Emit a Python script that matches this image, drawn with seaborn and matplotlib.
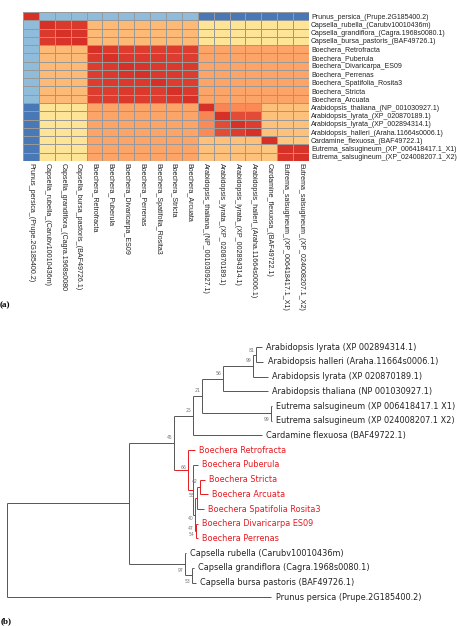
import matplotlib
matplotlib.use("Agg")
import matplotlib.pyplot as plt
import pandas as pd
import seaborn as sns
from matplotlib.colors import LinearSegmentedColormap

# ---- (a) heatmap data: percent identity between sequences ----
row_labels = [
    "Prunus_persica_(Prupe.2G185400.2)",
    "Capsella_rubella_(Carubv10010436m)",
    "Capsella_grandiflora_(Cagra.1968s0080.1)",
    "Capsella_bursa_pastoris_(BAF49726.1)",
    "Boechera_Retrofracta",
    "Boechera_Puberula",
    "Boechera_Divaricarpa_ES09",
    "Boechera_Perrenas",
    "Boechera_Spatifolia_Rosita3",
    "Boechera_Stricta",
    "Boechera_Arcuata",
    "Arabidopsis_thaliana_(NP_001030927.1)",
    "Arabidopsis_lyrata_(XP_020870189.1)",
    "Arabidopsis_lyrata_(XP_002894314.1)",
    "Arabidopsis_halleri_(Araha.11664s0006.1)",
    "Cardamine_flexuosa_(BAF49722.1)",
    "Eutrema_salsugineum_(XP_006418417.1_X1)",
    "Eutrema_salsugineum_(XP_024008207.1_X2)",
]
col_labels = [
    "Prunus_persica_(Prupe.2G185400.2)",
    "Capsella_rubella_(Carubv10010436m)",
    "Capsella_grandiflora_(Cagra.1968s0080",
    "Capsella_bursa_pastoris_(BAF49726.1)",
    "Boechera_Retrofracta",
    "Boechera_Puberula",
    "Boechera_Divaricarpa_ES09",
    "Boechera_Perrenas",
    "Boechera_Spatifolia_Rosita3",
    "Boechera_Stricta",
    "Boechera_Arcuata",
    "Arabidopsis_thaliana_(NP_001030927.1)",
    "Arabidopsis_lyrata_(XP_020870189.1)",
    "Arabidopsis_lyrata_(XP_002894314.1)",
    "Arabidopsis_halleri_(Araha.11664s0006.1)",
    "Cardamine_flexuosa_(BAF49722.1)",
    "Eutrema_salsugineum_(XP_006418417.1_X1)",
    "Eutrema_salsugineum_(XP_024008207.1_X2)",
]
identity = [
    [100, 54, 54, 54, 54, 54, 54, 54, 54, 54, 54, 45.5, 45.5, 45.5, 45.5, 45.5, 45.5, 45.5],
    [54, 100, 99, 99, 86, 86, 86, 86, 86, 86, 86, 80.5, 80.5, 80.5, 80.5, 80.5, 80.5, 80.5],
    [54, 99, 100, 99.5, 86, 86, 86, 86, 86, 86, 86, 80.5, 80.5, 80.5, 80.5, 80.5, 80.5, 80.5],
    [54, 99, 99.5, 100, 86, 86, 86, 86, 86, 86, 86, 80.5, 80.5, 80.5, 80.5, 80.5, 80.5, 80.5],
    [54, 86, 86, 86, 100, 99, 98.5, 98.5, 98.5, 98.5, 98.5, 88, 88, 88, 88, 88, 88, 88],
    [54, 86, 86, 86, 99, 100, 99, 99, 99, 98.5, 98.5, 88, 88, 88, 88, 88, 88, 88],
    [54, 86, 86, 86, 98.5, 99, 100, 99.5, 99, 99, 99, 88, 88, 88, 88, 88, 88, 88],
    [54, 86, 86, 86, 98.5, 99, 99.5, 100, 99, 99, 98.5, 88, 88, 88, 88, 88, 88, 88],
    [54, 86, 86, 86, 98.5, 99, 99, 99, 100, 98.5, 98.5, 88, 88, 88, 88, 88, 88, 88],
    [54, 86, 86, 86, 98.5, 98.5, 99, 99, 98.5, 100, 99, 88, 88, 88, 88, 88, 88, 88],
    [54, 86, 86, 86, 98.5, 98.5, 99, 98.5, 98.5, 99, 100, 88, 88, 88, 88, 88, 88, 88],
    [45.5, 80.5, 80.5, 80.5, 88, 88, 88, 88, 88, 88, 88, 100, 91.5, 91, 91, 85, 85, 85],
    [45.5, 80.5, 80.5, 80.5, 88, 88, 88, 88, 88, 88, 88, 91.5, 100, 97, 97, 85, 85, 85],
    [45.5, 80.5, 80.5, 80.5, 88, 88, 88, 88, 88, 88, 88, 91, 97, 100, 98.5, 85, 85, 85],
    [45.5, 80.5, 80.5, 80.5, 88, 88, 88, 88, 88, 88, 88, 91, 97, 98.5, 100, 85, 85, 85],
    [45.5, 80.5, 80.5, 80.5, 88, 88, 88, 88, 88, 88, 88, 85, 85, 85, 85, 100, 84.5, 84.5],
    [45.5, 80.5, 80.5, 80.5, 88, 88, 88, 88, 88, 88, 88, 85, 85, 85, 85, 84.5, 100, 99.5],
    [45.5, 80.5, 80.5, 80.5, 88, 88, 88, 88, 88, 88, 88, 85, 85, 85, 85, 84.5, 99.5, 100],
]

# ---- (b) tree data: leaves top to bottom, tip depth, internal nodes ----
leaf_names = [
    "Arabidopsis lyrata (XP 002894314.1)",
    "Arabidopsis halleri (Araha.11664s0006.1)",
    "Arabidopsis lyrata (XP 020870189.1)",
    "Arabidopsis thaliana (NP 001030927.1)",
    "Eutrema salsugineum (XP 006418417.1 X1)",
    "Eutrema salsugineum (XP 024008207.1 X2)",
    "Cardamine flexuosa (BAF49722.1)",
    "Boechera Retrofracta",
    "Boechera Puberula",
    "Boechera Stricta",
    "Boechera Arcuata",
    "Boechera Spatifolia Rosita3",
    "Boechera Divaricarpa ES09",
    "Boechera Perrenas",
    "Capsella rubella (Carubv10010436m)",
    "Capsella grandiflora (Cagra.1968s0080.1)",
    "Capsella bursa pastoris (BAF49726.1)",
    "Prunus persica (Prupe.2G185400.2)",
]
leaf_depth = [2.547, 2.557, 2.607, 2.607, 2.647, 2.647, 2.547,
              1.872, 1.907, 1.972, 2.002, 1.967, 1.907, 1.907,
              1.787, 1.862, 1.887, 2.637]
# node: (depth, children, bootstrap)
tree_nodes = {
    "root": (0.0, ["N0", "Prunus persica (Prupe.2G185400.2)"], ""),
    "N0": (1.217, ["N45", "C97"], ""),
    "N45": (1.67, ["N25", "B1"], "45"),
    "N25": (1.86, ["N21", "Cardamine flexuosa (BAF49722.1)"], "25"),
    "N21": (1.944, ["A56", "E99"], "21"),
    "A56": (2.154, ["A99", "Arabidopsis thaliana (NP 001030927.1)"], "56"),
    "A99": (2.46, ["A81", "Arabidopsis lyrata (XP 020870189.1)"], "99"),
    "A81": (2.487, ["Arabidopsis lyrata (XP 002894314.1)",
                    "Arabidopsis halleri (Araha.11664s0006.1)"], "81"),
    "E99": (2.637, ["Eutrema salsugineum (XP 006418417.1 X1)",
                    "Eutrema salsugineum (XP 024008207.1 X2)"], "99"),
    "B1": (1.807, ["Boechera Retrofracta", "B2"], "66"),
    "B2": (1.857, ["Boechera Puberula", "B3"], ""),
    "B3": (1.872, ["B4", "B6"], "40"),
    "B4": (1.892, ["B5", "Boechera Spatifolia Rosita3"], "58"),
    "B5": (1.922, ["Boechera Stricta", "Boechera Arcuata"], "42"),
    "B6": (1.882, ["Boechera Divaricarpa ES09", "Boechera Perrenas"], "47\n54"),
    "C97": (1.777, ["Capsella rubella (Carubv10010436m)", "C53"], "97"),
    "C53": (1.844, ["Capsella grandiflora (Cagra.1968s0080.1)",
                    "Capsella bursa pastoris (BAF49726.1)"], "53"),
}
red_clade = "B1"

# ---- figure ----
W, H = 457, 626
fig = plt.figure(figsize=(W / 100, H / 100), dpi=100)
fig.patch.set_facecolor("white")

# pheatmap default palette
cmap = LinearSegmentedColormap.from_list(
    "pheat", ["#4575B4", "#91BFDB", "#E0F3F8", "#FFFFBF", "#FEE090", "#FC8D59", "#D73027"])

df = pd.DataFrame(identity, index=row_labels, columns=col_labels)
ax = fig.add_axes([23 / W, 1 - 161 / H, 286 / W, 149 / H])
sns.heatmap(df, ax=ax, cmap=cmap, vmin=45, vmax=100, cbar=False,
            linewidths=0.4, linecolor="#999999",
            xticklabels=col_labels, yticklabels=row_labels)
ax.yaxis.tick_right()
ax.set_yticklabels(row_labels, rotation=0, fontsize=5, family="Liberation Sans", color="#222222")
ax.set_xticklabels(col_labels, rotation=270, fontsize=5.1, family="Liberation Sans",
                   color="#222222", va="top", ha="center")
ax.tick_params(axis="both", length=0, pad=1.5)

fig.text(0, 1 - 305 / H, "(a)", fontsize=6.5, family="Liberation Serif",
         weight="bold", ha="left", va="center")

# ---- tree ----
axt = fig.add_axes([0, 1 - 605 / H, 1, 265 / H])
axt.axis("off")
px = 1 / 14.7
axt.set_xlim(-0.073, 4.497)
axt.set_ylim((605 - 347.3) * px, (340 - 347.3) * px)

leaf_y = {n: i for i, n in enumerate(leaf_names)}
leaf_x = dict(zip(leaf_names, leaf_depth))


def y_of(n):
    if n in leaf_y:
        return leaf_y[n]
    ys = [y_of(c) for c in tree_nodes[n][1]]
    return (min(ys) + max(ys)) / 2


def x_of(n):
    return leaf_x[n] if n in leaf_x else tree_nodes[n][0]


# everything below the Boechera node is drawn red
red_set = set()
stack = [red_clade]
while stack:
    k = stack.pop()
    red_set.add(k)
    if k in tree_nodes:
        stack.extend(tree_nodes[k][1])

RED = "#e8191f"
GREY = "#555555"
support_pos = {"N45": -5, "N25": -5, "N21": -5, "A56": -5, "A99": -5, "A81": -4,
               "E99": 6, "B1": -2, "B5": -5, "B4": -2, "B3": 4, "B6": 0.5,
               "C97": 6, "C53": 6}

for name, (d, kids, sup) in tree_nodes.items():
    ys = [y_of(c) for c in kids]
    col = RED if name in red_set else GREY
    axt.plot([d, d], [min(ys), max(ys)], color=col, lw=0.7, solid_capstyle="butt")
    for c, cy in zip(kids, ys):
        ccol = RED if c in red_set else GREY
        axt.plot([d, x_of(c)], [cy, cy], color=ccol, lw=0.7, solid_capstyle="butt")
    if sup:
        axt.text(d - 0.015, y_of(name) + support_pos.get(name, -5) * px, sup,
                 fontsize=3.3, color="#777777", ha="right", va="center",
                 linespacing=1.1)

for n in leaf_names:
    axt.text(leaf_x[n] + 0.045, leaf_y[n], n, fontsize=5.85, family="DejaVu Sans",
             color=RED if n in red_set else "#222222", ha="left", va="center")

fig.text(1 / W, 1 - 621 / H, "(b)", fontsize=6.5, family="Liberation Serif",
         weight="bold", ha="left", va="center")

fig.savefig("out.png", dpi=100)
